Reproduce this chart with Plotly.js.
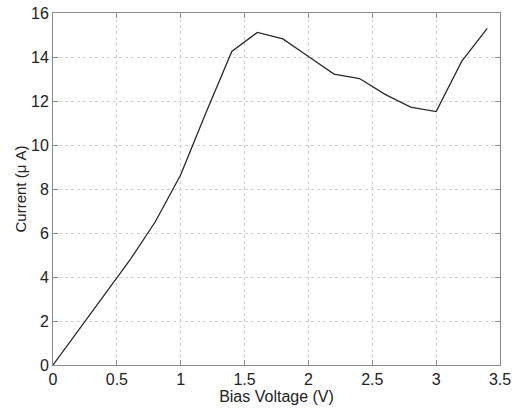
<!DOCTYPE html>
<html>
<head>
<meta charset="utf-8">
<script src="https://cdn.plot.ly/plotly-3.0.1.min.js"></script>
<style>html,body{margin:0;padding:0;background:#fff;}#chart{width:522px;height:409px;}</style>
</head>
<body>
<div id="chart"></div>
<script>
const biasVoltage = [0, 0.2, 0.4, 0.6, 0.8, 1.0, 1.2, 1.4, 1.6, 1.8, 2.0, 2.2, 2.4, 2.6, 2.8, 3.0, 3.2, 3.4];
const current = [0, 1.6, 3.2, 4.75, 6.5, 8.65, 11.5, 14.25, 15.12, 14.82, 14.02, 13.22, 13.02, 12.3, 11.72, 11.52, 13.8, 15.3];
const xTicks = [0, 0.5, 1, 1.5, 2, 2.5, 3, 3.5];
const xTickLabels = ['0', '0.5', '1', '1.5', '2', '2.5', '3', '3.5'];
const yTicks = [0, 2, 4, 6, 8, 10, 12, 14, 16];

const fontFam = 'Liberation Sans, Arial, sans-serif';
const axisCommon = {
  showline: true, mirror: 'ticks', linecolor: '#8a8a8a', linewidth: 1,
  ticks: 'inside', ticklen: 5, tickcolor: '#8a8a8a',
  showgrid: true, gridcolor: '#d2d2d2', griddash: 'dot', gridwidth: 1,
  zeroline: false,
  tickfont: {family: fontFam, size: 16, color: '#222'}
};

Plotly.newPlot('chart', [{
  x: biasVoltage, y: current, type: 'scatter', mode: 'lines',
  line: {color: '#2a2a2a', width: 1.3}
}], {
  width: 522, height: 409,
  margin: {l: 53, r: 22, t: 13, b: 44},
  paper_bgcolor: '#fff', plot_bgcolor: '#fff',
  showlegend: false,
  xaxis: Object.assign({}, axisCommon, {
    range: [0, 3.5], tickvals: xTicks, ticktext: xTickLabels,
    title: {text: 'Bias Voltage (V)', standoff: 2, font: {family: fontFam, size: 16, color: '#222'}}
  }),
  yaxis: Object.assign({}, axisCommon, {
    range: [0, 16], tickvals: yTicks,
    title: {text: 'Current (μ A)', standoff: 0, font: {family: fontFam, size: 15, color: '#222'}}
  })
}, {displayModeBar: false, staticPlot: true});
</script>
</body>
</html>
